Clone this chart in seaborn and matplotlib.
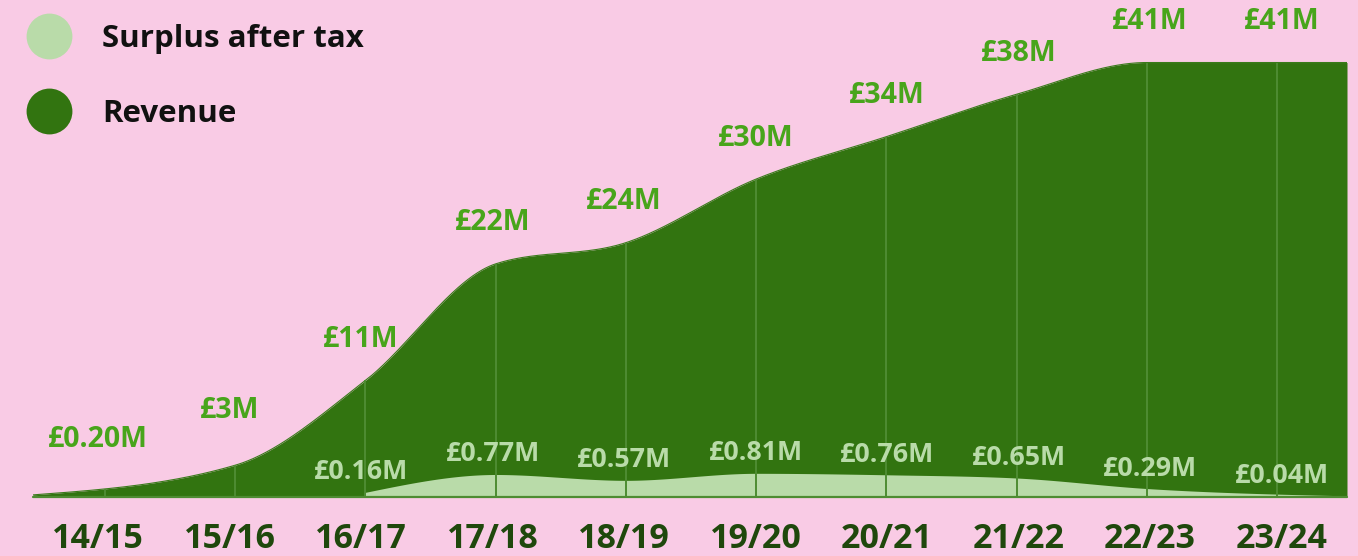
import numpy as np
import pandas as pd
import matplotlib
matplotlib.use("Agg")
import matplotlib.pyplot as plt
import seaborn as sns
from matplotlib.lines import Line2D
from matplotlib.collections import LineCollection
from matplotlib.transforms import ScaledTranslation

# ---------------- data ----------------
years = ["14/15", "15/16", "16/17", "17/18", "18/19", "19/20", "20/21", "21/22", "22/23", "23/24"]
revenue = [0.20, 3, 11, 22, 24, 30, 34, 38, 41, 41]          # £M
surplus = [None, None, 0.16, 0.77, 0.57, 0.81, 0.76, 0.65, 0.29, 0.04]  # £M
series_names = ["Surplus after tax", "Revenue"]

# ---------------- style ----------------
PINK = "#F9CBE5"
DARK = "#327410"
LIGHT = "#B9DBA9"
VLINE = "#4E8C32"
REV_LABEL = "#48A51B"
TICK = "#1F480C"
TEXT = "#111111"

sns.set_theme(style="white")
plt.rcParams["font.family"] = ["Open Sans", "DejaVu Sans"]


def monotone_path(xp, yp, n=80):
    """Monotone cubic (d3 curveMonotoneX style) path through the points."""
    xp = np.asarray(xp, float)
    yp = np.asarray(yp, float)
    h = np.diff(xp)
    s = np.diff(yp) / h
    t = np.zeros(len(xp))
    for i in range(1, len(xp) - 1):
        h0, h1, s0, s1 = h[i - 1], h[i], s[i - 1], s[i]
        p = (s0 * h1 + s1 * h0) / (h0 + h1)
        t[i] = (np.sign(s0) + np.sign(s1)) * min(abs(s0), abs(s1), 0.5 * abs(p))
    t[0] = (3 * s[0] - t[1]) / 2
    t[-1] = (3 * s[-1] - t[-2]) / 2
    xs, ys = [], []
    for i in range(len(xp) - 1):
        u = np.linspace(0, 1, n, endpoint=(i == len(xp) - 2))
        dx = h[i] / 3
        p0, p1, p2, p3 = yp[i], yp[i] + dx * t[i], yp[i + 1] - dx * t[i + 1], yp[i + 1]
        xs.append(xp[i] + u * h[i])
        ys.append((1 - u) ** 3 * p0 + 3 * (1 - u) ** 2 * u * p1 + 3 * (1 - u) * u ** 2 * p2 + u ** 3 * p3)
    return np.concatenate(xs), np.concatenate(ys)


W, H = 1358, 556
fig = plt.figure(figsize=(W / 100, H / 100), dpi=100, facecolor=PINK)
ax = fig.add_axes([33 / W, 59 / H, 1314 / W, 497 / H])
ax.set_facecolor(PINK)

x = np.arange(len(years), dtype=float)
xlim = (-0.553, 9.538)
# text (labels / ticks) sit on a slightly wider band than the guide lines
text_dx = [-7 + 1.3 * i for i in range(len(years))]

# Revenue area (end points stretched to the plot edges)
rx = x.copy()
rx[0], rx[-1] = xlim
rxs, rys = monotone_path(rx, revenue)
df_rev = pd.DataFrame({"x": rxs, "y": rys})
ax.fill_between(df_rev["x"], 0, df_rev["y"], color=DARK, lw=0, zorder=1)
sns.lineplot(data=df_rev, x="x", y="y", ax=ax, color="#3A7B1B", lw=0.8, sort=False, zorder=2)

# Surplus area on its own scale
ax2 = ax.twinx()
mask = np.array([v is not None for v in surplus])
sx = x[mask].copy()
sv = np.array([v for v in surplus if v is not None], float)
sx[-1] = xlim[1]
sxs, sys_ = monotone_path(sx, sv)
df_sur = pd.DataFrame({"x": sxs, "y": sys_})
ax2.fill_between(df_sur["x"], 0, df_sur["y"], color=LIGHT, lw=0, zorder=1)

# vertical guide lines up to the revenue curve
tops = np.interp(x, rxs, rys)
segs = [[(xi, 0), (xi, ti)] for xi, ti in zip(x, tops)]
ax2.add_collection(LineCollection(segs, colors=VLINE, linewidths=1.4, transform=ax.transData, zorder=3),
                   autolim=False)
ax2.axhline(0, color=VLINE, lw=1.6, zorder=4, clip_on=False)

# value labels
rev_dy = [55, 55] + [41] * 8
for i, v in enumerate(revenue):
    txt = f"£{v:.2f}M" if v < 1 else f"£{v:.0f}M"
    ax.annotate(txt, xy=(x[i], v), xytext=(text_dx[i], rev_dy[i]), textcoords="offset pixels",
                ha="center", va="center", fontsize=20.5, fontweight="bold", color=REV_LABEL)
for i, v in enumerate(surplus):
    if v is None:
        continue
    ax2.annotate(f"£{v:.2f}M", xy=(x[i], v), xytext=(text_dx[i], 20), textcoords="offset pixels",
                 ha="center", va="center", fontsize=19.3, fontweight="bold", color=LIGHT, zorder=5)

# axes cosmetics
ax.set_xlim(*xlim)
ax2.set_xlim(*xlim)
ax.set_ylim(0, 46.9)
ax2.set_ylim(0, 17.0)
ax.set_xticks(x, years)
ax.tick_params(axis="x", length=0, pad=18, labelsize=24.5, labelcolor=TICK)
for i, lab in enumerate(ax.get_xticklabels()):
    lab.set_fontweight("bold")
    lab.set_transform(lab.get_transform() + ScaledTranslation(text_dx[i] / 100, 0, fig.dpi_scale_trans))
ax.set_yticks([])
ax2.set_yticks([])
ax.set_xlabel("")
ax.set_ylabel("")
ax2.set_ylabel("")
for a in (ax, ax2):
    for sp in a.spines.values():
        sp.set_visible(False)

# legend
handles = [Line2D([], [], ls="", marker="o", markersize=33, markerfacecolor=LIGHT, markeredgewidth=0),
           Line2D([], [], ls="", marker="o", markersize=33, markerfacecolor=DARK, markeredgewidth=0)]
leg = ax2.legend(handles, series_names, loc="upper left", bbox_to_anchor=(26.2 / W, 1 - 24 / H),
                 bbox_transform=fig.transFigure, frameon=False, handlelength=1.46, handletextpad=0.97,
                 labelspacing=1.43, borderpad=0, borderaxespad=0,
                 prop={"weight": "bold", "size": 22.5})
for t in leg.get_texts():
    t.set_color(TEXT)

fig.savefig("out.png", dpi=100, facecolor=PINK)
